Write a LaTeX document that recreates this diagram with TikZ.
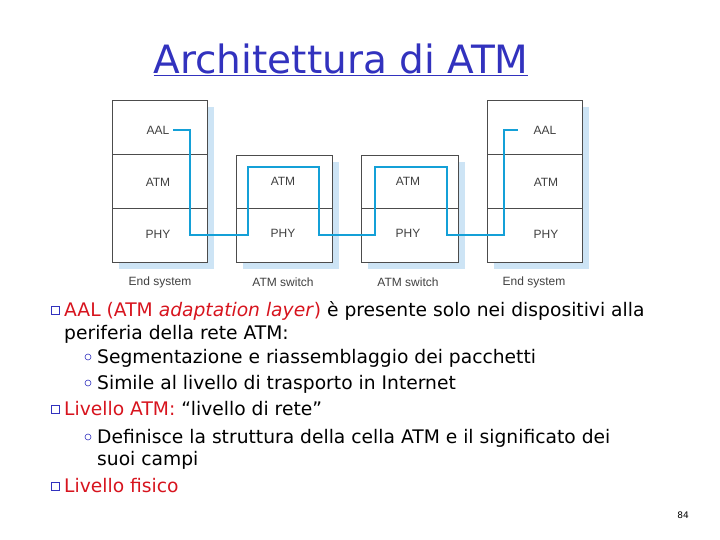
\documentclass[tikz,border=0pt]{standalone}
\usepackage{fontspec}
\setmainfont{DejaVu Sans}
\newfontfamily\diag{Liberation Sans}
\definecolor{shd}{RGB}{205,228,245}
\definecolor{lnk}{RGB}{20,160,215}
\definecolor{ttl}{RGB}{50,50,190}
\definecolor{rd}{RGB}{215,20,30}
\begin{document}
\begin{tikzpicture}[x=1pt,y=-1pt,
  layer/.style={draw=black!70,line width=0.5pt,fill=white},
  shadow/.style={fill=shd},
  lbl/.style={font=\diag\fontsize{12}{14}\selectfont,text=black!75},
  path/.style={draw=lnk,line width=1.3pt},
  txt/.style={anchor=base west,inner sep=0pt,font=\fontsize{18.7}{20}\selectfont},
  mb/.style={draw=ttl,line width=0.9pt,minimum size=8pt,inner sep=0pt},
  sb/.style={circle,draw=ttl,line width=0.6pt,minimum size=6pt,inner sep=0pt}]
\useasboundingbox (0,0) rectangle (720,540);
% title
\node[font=\fontsize{39}{42}\selectfont,text=ttl,inner sep=0pt] (title) at (341,60) {\underline{Architettura di ATM}};
% boxes
\foreach \n/\xa/\xb/\ya in {e1/112/207/100,s1/236/332/155,s2/361/458/155,e2/487/582/100}{
  \fill[shadow] (\xa+7,\ya+7) rectangle (\xb+7,269);
  \draw[layer] (\xa,\ya) rectangle (\xb,262);
  \draw[black!70,line width=0.5pt] (\xa,208) -- (\xb,208);
}
\draw[black!70,line width=0.5pt] (112,154) -- (207,154);
\draw[black!70,line width=0.5pt] (487,154) -- (582,154);
\node[lbl] (aal1) at (158,130) {AAL};
\node[lbl] (atm1) at (158,182) {ATM};
\node[lbl] (phy1) at (158,234) {PHY};
\node[lbl] (atm2) at (283,181) {ATM};
\node[lbl] (phy2) at (283,233) {PHY};
\node[lbl] (atm3) at (408,181) {ATM};
\node[lbl] (phy3) at (408,233) {PHY};
\node[lbl] (aal4) at (545,130) {AAL};
\node[lbl] (atm4) at (546,182) {ATM};
\node[lbl] (phy4) at (546,234) {PHY};
\node[lbl] (c1) at (160,282) {End system};
\node[lbl] (c2) at (283,282) {ATM switch};
\node[lbl] (c3) at (408,282) {ATM switch};
\node[lbl] (c4) at (534,282) {End system};
\coordinate (p0) at (173,130);
\coordinate (p1) at (518,130);
\draw[path] (p0) -- (190,130) -- (190,235) -- (248,235) -- (248,167) -- (319,167) -- (319,235)
  -- (375,235) -- (375,167) -- (447,167) -- (447,235) -- (504,235) -- (504,130) -- (p1);
% text
\node[mb] (b1) at (55,310) {};
\node[txt] (t1) at (64,316) {\textcolor{rd}{AAL (ATM \textit{adaptation layer})} è presente solo nei dispositivi alla};
\node[txt] (t1b) at (64,339) {periferia della rete ATM:};
\node[sb] (s1) at (88,357) {};
\node[txt] (t2) at (97,363) {Segmentazione e riassemblaggio dei pacchetti};
\node[sb] (s2) at (88,383) {};
\node[txt] (t3) at (97,389) {Simile al livello di trasporto in Internet};
\node[mb] (b2) at (55,409) {};
\node[txt] (t4) at (64,415) {\textcolor{rd}{Livello ATM:} “livello di rete”};
\node[sb] (s3) at (88,437) {};
\node[txt] (t5) at (97,443) {Definisce la struttura della cella ATM e il significato dei};
\node[txt] (t5b) at (97,465) {suoi campi};
\node[mb] (b3) at (55,486) {};
\node[txt] (t6) at (64,492) {\textcolor{rd}{Livello fisico}};
\node[font=\fontsize{9}{10}\selectfont] (pg) at (683,515) {84};
\end{tikzpicture}
\end{document}
